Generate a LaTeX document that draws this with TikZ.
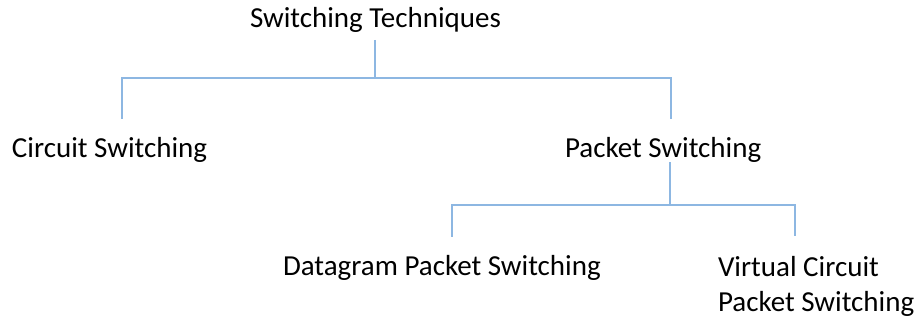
\documentclass[tikz,border=0pt]{standalone}
\usepackage{fontspec}
\setmainfont{Carlito}
\usepackage{xcolor}
\usepackage{tikz}
\usetikzlibrary{positioning,calc}

\definecolor{branchblue}{HTML}{8DB7E2}

\begin{document}
\begin{tikzpicture}[x=1pt, y=-1pt,
    term/.style={inner sep=0pt, outer sep=0pt, font=\fontsize{29}{35.5}\selectfont,
                 text height=18pt, text depth=4pt},
    branch/.style={draw=branchblue, line width=1.6pt, shorten >=20pt}]
  \useasboundingbox (0,0) rectangle (918,321);

  % Root and first level
  \node[term, anchor=base west] (tech) at (250,28) {Switching Techniques};
  \node[term, anchor=base west] (circ) at (12,157) {Circuit Switching};
  \node[term, anchor=base west] (pack) at (565,157) {Packet Switching};

  % Second level
  \node[term, anchor=base west] (dgram) at (283,275) {Datagram Packet Switching};
  \node[term, anchor=north west, align=left, text height=, text depth=]
    (vc) at (718,256) {Virtual Circuit\\Packet Switching};

  % Fork points
  \coordinate (techfork) at (375,78);
  \coordinate (packfork) at (670,205);

  % Tree lines
  \draw[branch, shorten >=0pt, shorten <=8pt] (techfork |- tech.south) -- (techfork);
  \draw[branch] (techfork) -| (circ.north -| 122,0);
  \draw[branch] (techfork) -| (pack.north -| 671,0);
  \draw[branch, shorten >=0pt, shorten <=1pt] (packfork |- pack.south) -- (packfork);
  \draw[branch] (packfork) -| (dgram.north -| 452,0);
  \draw[branch] (packfork) -| (vc.north -| 795,0);
\end{tikzpicture}
\end{document}
